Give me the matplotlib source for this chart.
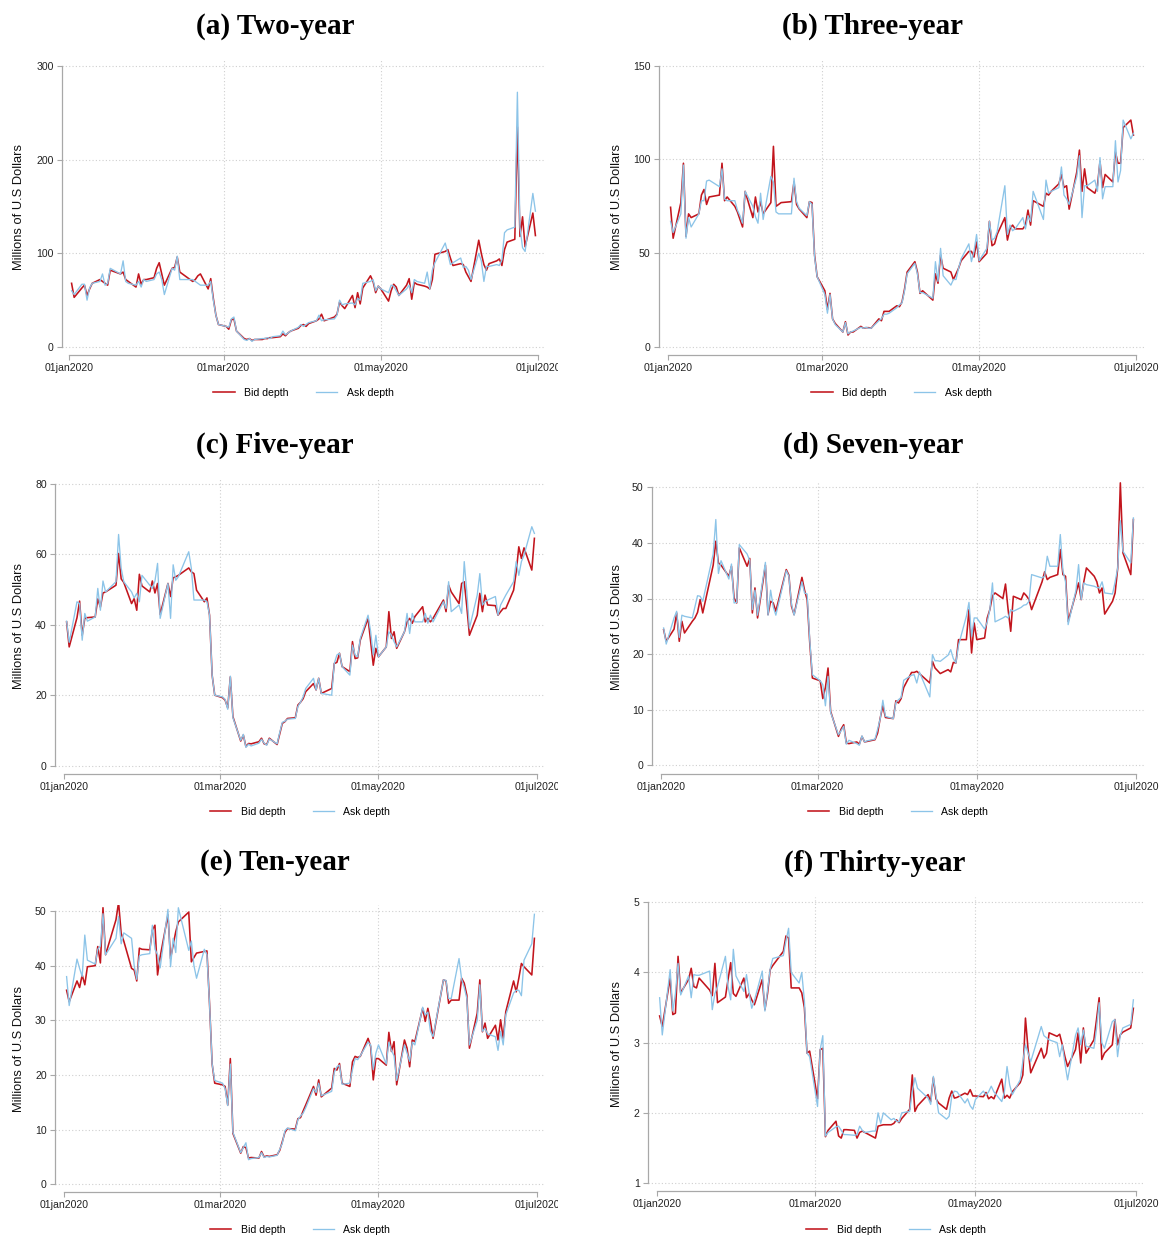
import matplotlib
matplotlib.use("Agg")
import matplotlib.pyplot as plt
from matplotlib.transforms import Bbox, TransformedBbox
import pandas as pd

# trading days, H1 2020 (bond market holidays removed)
holidays = ["2020-01-20", "2020-02-17", "2020-04-10", "2020-05-25"]
days = pd.bdate_range("2020-01-02", "2020-06-30")
days = days[~days.isin(pd.to_datetime(holidays))]

tick_days = ["2020-01-01", "2020-03-01", "2020-05-01", "2020-07-01"]
tick_labels = ["01jan2020", "01mar2020", "01may2020", "01jul2020"]

titles = ["(a) Two-year", "(b) Three-year", "(c) Five-year",
          "(d) Seven-year", "(e) Ten-year", "(f) Thirty-year"]
series_names = ["Bid depth", "Ask depth"]
ylabel = "Millions of U.S Dollars"

yticks = [[0, 100, 200, 300], [0, 50, 100, 150], [0, 20, 40, 60, 80],
          [0, 10, 20, 30, 40, 50], [0, 10, 20, 30, 40, 50], [1, 2, 3, 4, 5]]

# one line per month: Jan(21) Feb(19) Mar(22) Apr(21) May(20) Jun(22)
bid_2y = [68, 53, 63, 66, 55, 62, 68, 72, 70, 68, 66, 82, 78, 80, 72, 70, 64, 78, 67, 72, 72,
          74, 84, 90, 78, 66, 84, 85, 96, 80, 78, 70, 72, 76, 78, 62, 73, 52, 34, 24,
          22, 19, 29, 30, 17, 9, 8, 9, 7, 8, 8, 9, 9, 10, 10, 11, 14, 12, 15, 17, 20, 23,
          24, 22, 25, 28, 30, 35, 28, 32, 35, 48, 44, 41, 55, 42, 58, 46, 63, 76, 70, 58, 65,
          62, 49, 60, 67, 64, 55, 66, 73, 51, 69, 67, 65, 64, 62, 72, 99, 102, 104, 95, 87,
          89, 88, 80, 75, 70, 114, 100, 88, 82, 89, 92, 94, 87, 104, 112, 115, 235, 118, 139, 107, 143, 119]
ask_2y = [60, 56, 67, 67, 50, 63, 68, 70, 78, 66, 68, 84, 78, 92, 70, 68, 66, 70, 64, 72, 70,
          72, 78, 80, 72, 56, 84, 82, 97, 72, 72, 72, 70, 68, 66, 66, 70, 50, 34, 24,
          22, 21, 30, 32, 17, 8, 7, 9, 6, 8, 9, 9, 10, 9, 11, 12, 17, 13, 15, 17, 21, 24,
          22, 24, 26, 28, 34, 28, 29, 30, 34, 50, 45, 46, 47, 45, 52, 50, 68, 70, 72, 60, 65,
          62, 58, 66, 65, 60, 55, 62, 66, 58, 72, 70, 68, 80, 62, 82, 90, 111, 100, 88, 90,
          95, 85, 86, 82, 72, 100, 92, 70, 86, 86, 88, 87, 93, 122, 125, 128, 272, 128, 106, 102, 164, 145]

bid_3y = [74.5, 58, 77, 98, 59, 71, 69, 71, 81, 84, 76, 80, 81, 98, 78, 80, 75, 72, 68, 64, 83,
          69, 80, 72, 77.5, 71, 77, 107, 75, 76, 77, 77.5, 88, 76, 73.6, 69, 77.5, 77, 49, 37.5,
          30, 20, 28.6, 15, 12.6, 8, 13.5, 6.4, 8, 8, 11, 10, 10.3, 10.3, 10, 15, 14, 19, 19, 19, 22, 21.5,
          24, 31, 40, 45.5, 40, 28.6, 30, 25, 39, 34, 49, 42, 40, 36, 39, 42, 46, 51, 51, 48, 56,
          45.5, 50, 67, 54, 55, 60, 69, 57, 63, 65, 63, 63, 65, 73, 65, 78, 75, 82, 81, 83,
          87, 92, 85, 86, 73.5, 93.5, 105, 83, 95, 85, 82, 86, 99, 85, 92, 88, 104, 98, 98, 117, 121, 113]
ask_3y = [67, 61, 71, 97, 58, 69, 64, 71, 78, 78, 88.5, 89, 85.5, 95, 79, 78, 78, 73, 70, 66, 83,
          75, 69.5, 66, 82, 68, 91, 88, 72, 71, 71, 71, 90, 77.5, 74, 70, 77.5, 76, 48, 37.5,
          28, 18, 28, 15, 12, 8, 13, 7, 8, 8.5, 10.5, 10, 10.5, 10, 10, 14, 15, 17.5, 17.5, 18, 21, 22.5,
          23.5, 30, 39, 44.6, 39, 29, 29, 26, 45.5, 35, 52.6, 38, 33, 36, 36, 42, 47, 55, 45.5, 51, 60,
          46, 52.6, 67, 57, 58, 61.5, 86, 60, 65, 62, 63, 69, 63, 70, 67, 83, 68, 89, 82, 83,
          85, 96, 81, 79, 76, 91, 102, 69, 86, 86, 89, 83, 101, 79, 85.5, 85.5, 110, 88, 94, 121, 111, 114]

bid_5y = [40.8, 33.7, 42, 46.7, 37, 41.8, 42, 42.2, 47.3, 45, 49, 49.3, 51.2, 60.2, 53, 52, 46, 47.4, 44.1, 54.3, 51,
          49.3, 52.4, 49, 51.7, 42.9, 51.7, 48, 53.3, 53.6, 54, 56.1, 55, 54.5, 49.8, 46.5, 47.6, 42.7, 25.7, 20,
          19.3, 18.6, 16.4, 25.2, 13.9, 7, 8.7, 5.4, 6.3, 6.2, 6.8, 7.8, 6.2, 6, 7.8, 6, 9, 12, 12.5, 13.4, 13.6, 17.2,
          18, 19, 21, 23.3, 21.5, 24.8, 20.5, 21.9, 29, 29.3, 31.9, 28.1, 26.7, 35.2, 30.4, 30.6, 35.6, 41.8, 35.2, 28.5, 33.3,
          30.9, 33.7, 43.7, 36.1, 38, 33.3, 38, 40.8, 41.8, 40.4, 42.3, 45.1, 40.8, 41.8, 40.8, 41.8, 47, 43.7, 51.2, 49.3,
          46, 51.7, 52.2, 45.1, 37, 42.7, 48.9, 43.7, 48.4, 45.6, 45.4, 42.7, 43.7, 44.6, 44.6, 49.8, 55, 62.1, 58.8, 61.8, 55.5, 64.5]
ask_5y = [41, 35, 46.5, 46, 35.6, 43.2, 41, 42.2, 50.3, 44.1, 52.4, 49.3, 52.2, 65.6, 56, 52.2, 49.3, 47.6, 48.9, 46.5, 54,
          51.2, 50.3, 52.4, 57.4, 41.8, 51.7, 41.8, 57, 52.6, 53.6, 60.7, 56, 47, 47, 47, 46.5, 42.7, 25.7, 20,
          19.5, 18.8, 16, 25.4, 13.6, 7.2, 8.9, 5.2, 6.1, 5.6, 6.4, 7.5, 6.4, 5.8, 7.6, 6.2, 9.4, 12.3, 12.6, 13.2, 13.4, 16.8,
          18, 19.5, 21.9, 24.8, 21.5, 24.8, 20.5, 20, 29, 31.4, 31.9, 28.1, 25.7, 34.2, 31.4, 30.9, 36.1, 42.7, 38, 31.4, 37,
          30.9, 33.7, 38, 37, 35.2, 33.7, 38, 43.2, 37.5, 43.2, 40.8, 40.8, 43.2, 40.4, 42.7, 40.8, 46.5, 44.6, 52.2, 43.7,
          45.6, 43.2, 57.9, 49.3, 39, 48.4, 54.5, 45.6, 46.5, 47, 48, 42.7, 45.6, 47, 48.4, 52.2, 57.9, 54, 57.9, 59.7, 67.8, 65.9]

bid_7y = [24.4, 22.3, 24.5, 27.4, 22.3, 25.9, 23.8, 25.9, 26.5, 27.5, 29.8, 27.4, 36, 40.3, 36.4, 36, 34, 35.8, 30.1, 29.2, 39.1,
          35.8, 37.2, 27.4, 31.9, 26.5, 36, 27.1, 29.5, 29.2, 27.7, 35.2, 34.2, 28.6, 27.1, 33.8, 31.5, 29.8, 22, 15.7,
          15.2, 12, 14, 17.5, 9.7, 5.2, 6.5, 7.3, 4, 3.9, 4.2, 3.8, 5.2, 4.2, 4.3, 4.6, 5.8, 8.5, 10.7, 8.6, 8.4, 11.6,
          11.2, 12, 14, 16.7, 16.7, 16.9, 16.5, 14.8, 18.7, 17.5, 17, 16.5, 17.2, 16.8, 18.5, 18.4, 22.6, 22.6, 28, 20.2, 25.6,
          22.6, 22.9, 26.5, 28, 30.5, 31, 30, 32.6, 28, 24.1, 30.4, 29.8, 31, 30.5, 29.8, 28, 33, 34.8, 33.4, 33.8,
          34.3, 38.8, 34.3, 34, 25.9, 31, 32.8, 29.8, 33, 35.5, 34, 33, 31, 31.9, 27.2, 29.5, 31, 35.5, 50.8, 38.2, 34.3, 44.2]
ask_7y = [24.7, 21.8, 26.5, 27.7, 23, 27, 26.8, 26.5, 28.5, 30.5, 30.4, 29.5, 38, 44.2, 34.5, 36.8, 33.5, 36.2, 29.2, 29.3, 39.7,
          38, 36.8, 28, 31.5, 27, 36.5, 27, 31.5, 28.5, 27, 35, 34, 29, 27, 33, 31, 30.8, 22.5, 16.3,
          15.2, 14.5, 10.7, 16, 9.5, 5.5, 6.2, 7, 3.8, 4.5, 3.9, 3.6, 5.3, 4.2, 4.4, 4.7, 6.5, 8.4, 11.7, 8.8, 8.4, 11.3,
          11.8, 12.2, 15.3, 16.2, 16.3, 14.8, 16.8, 12.3, 19.9, 18.8, 18.8, 18.7, 19.8, 20.8, 19.2, 18.4, 21.6, 26.8, 29.3, 23.2, 26.5,
          26.5, 24.5, 25.8, 28, 32.8, 25.8, 26.5, 26.8, 26.5, 28, 27.7, 28.4, 28.8, 28.9, 29.5, 34.3, 33.7, 34, 37.6, 35.8,
          35.8, 41.5, 35, 33, 25.3, 31.5, 36.1, 29.8, 32.8, 32.5, 32.2, 32, 31.9, 33, 31, 30.8, 33, 35.5, 44, 38.5, 36.4, 44.5]

bid_10y = [35.5, 33.4, 37.2, 36, 38.3, 36.5, 39.8, 40, 43.5, 40.5, 50.6, 42, 48.4, 51.6, 45.9, 44.5, 39.5, 39.2, 37.2, 43.2, 43,
           42.9, 46.5, 47.4, 38.3, 41.6, 49.3, 41.3, 43.8, 46.2, 48, 49.8, 40.7, 41.5, 42.3, 42.6, 42.7, 33, 22, 18.5,
           18.2, 17.9, 14.5, 23, 9.3, 5.7, 6.9, 6.7, 4.8, 4.9, 4.8, 6, 5, 5.2, 5.1, 5.4, 6.2, 7.8, 9.5, 10.2, 10.1, 12,
           12.2, 13.4, 14.5, 17.9, 16.3, 19.1, 16, 17.6, 21.2, 20.9, 22.1, 18.5, 17.9, 22.4, 23.4, 23.2, 23.4, 26.7, 25.2, 19.1, 23,
           23, 21.8, 27.8, 24.3, 26.1, 18.2, 26.4, 24.9, 21.5, 26.4, 26.1, 32.2, 29.8, 32.2, 29.8, 26.7, 37.4, 37.2, 33.1, 33.7,
           33.7, 37.7, 36.8, 34.6, 24.9, 31.3, 37.4, 27.9, 29.5, 26.7, 29.1, 26.4, 30.1, 26.7, 31.6, 37.2, 35.2, 37.7, 40.4, 39.8, 38.3, 45]
ask_10y = [38, 32.7, 41.2, 39.5, 38, 45.6, 41, 40.3, 43, 43.6, 49.5, 42, 45, 49, 44, 46, 45, 40, 37.5, 41.8, 42,
           42.2, 47.4, 43, 42, 39.6, 50.3, 39.8, 45, 42.4, 50.6, 42.8, 44.5, 40, 37.7, 43, 42, 33, 22, 19,
           18.5, 17.5, 14.4, 22, 9.5, 5.8, 6.7, 7.6, 4.5, 4.7, 4.9, 5.8, 4.9, 5.1, 5.0, 5.3, 6.4, 7.5, 9.8, 10.3, 9.8, 11.8,
           12.5, 13, 14, 17.5, 16.8, 18.5, 16.2, 17, 20.5, 21.5, 21.8, 18.3, 18.5, 21, 23, 22.8, 23.5, 26, 25.5, 21, 24,
           25.5, 22, 26, 24.5, 23.5, 19, 25.5, 24, 22.5, 26, 25.5, 32.4, 31, 31.5, 28, 27, 37.4, 37.3, 34, 34,
           41.3, 37.5, 36, 34, 25.5, 30, 36.5, 28, 28.5, 27.5, 27, 24.5, 28, 25.5, 31, 35, 35.5, 35.5, 34.5, 41, 44, 49.4]

bid_30y = [3.38, 3.23, 3.92, 3.40, 3.42, 4.23, 3.71, 3.90, 4.06, 3.80, 3.78, 3.92, 3.75, 3.67, 4.13, 3.57, 3.65, 3.90, 4.14, 3.70, 3.66,
           3.92, 3.64, 3.70, 3.61, 3.54, 3.90, 3.47, 3.70, 4.04, 4.10, 4.30, 4.52, 4.49, 3.78, 3.78, 3.71, 3.50, 2.85, 2.88,
           2.20, 2.90, 2.92, 1.66, 1.75, 1.88, 1.67, 1.64, 1.76, 1.76, 1.75, 1.64, 1.72, 1.74, 1.72, 1.66, 1.64, 1.81, 1.82, 1.83, 1.83, 1.85,
           1.90, 1.86, 1.92, 2.05, 2.54, 2.02, 2.10, 2.26, 2.16, 2.50, 2.20, 2.14, 2.05, 2.21, 2.31, 2.21, 2.22, 2.28, 2.26, 2.33, 2.24,
           2.24, 2.23, 2.29, 2.20, 2.23, 2.20, 2.48, 2.21, 2.25, 2.21, 2.30, 2.43, 2.54, 3.35, 2.90, 2.57, 2.92, 2.78, 2.85, 3.14,
           3.09, 3.12, 2.97, 2.80, 2.66, 2.90, 3.14, 2.71, 3.21, 2.85, 3.04, 3.33, 3.64, 2.76, 2.85, 2.97, 3.33, 2.97, 3.11, 3.15, 3.21, 3.49]
ask_30y = [3.64, 3.11, 4.04, 3.45, 3.70, 4.13, 3.68, 3.95, 3.64, 3.97, 3.96, 3.96, 4.02, 3.47, 3.70, 3.80, 4.23, 3.80, 3.61, 4.33, 3.95,
           3.73, 3.97, 3.71, 3.49, 3.60, 4.02, 3.45, 3.75, 4.05, 4.20, 4.24, 4.45, 4.63, 4.00, 3.85, 4.00, 3.60, 2.85, 2.80,
           2.09, 2.90, 3.10, 1.67, 1.72, 1.80, 1.81, 1.75, 1.69, 1.69, 1.68, 1.69, 1.81, 1.75, 1.72, 1.74, 1.74, 2.00, 1.85, 2.00, 1.90, 1.92,
           1.88, 1.87, 2.00, 2.02, 2.30, 2.50, 2.35, 2.21, 2.12, 2.52, 2.25, 2.00, 1.91, 1.95, 2.24, 2.31, 2.30, 2.14, 2.20, 2.10, 2.05,
           2.19, 2.31, 2.25, 2.30, 2.38, 2.30, 2.16, 2.30, 2.66, 2.40, 2.26, 2.47, 2.73, 2.97, 2.85, 2.73, 3.23, 3.10, 3.07, 3.04,
           3.00, 2.80, 2.97, 2.70, 2.47, 3.10, 3.21, 2.97, 3.18, 2.95, 2.92, 3.20, 3.57, 3.00, 2.92, 3.30, 3.33, 2.80, 3.10, 3.21, 3.26, 3.61]

bids = [bid_2y, bid_3y, bid_5y, bid_7y, bid_10y, bid_30y]
asks = [ask_2y, ask_3y, ask_5y, ask_7y, ask_10y, ask_30y]

# ---- layout (pixels of a 1159x1237 canvas) ----
W, H = 1159, 1237
# axes box (left, top, right, bottom), x px of 01jan/01jul, y px of lowest/highest tick
boxes = [(62, 60, 545, 355), (659, 60, 1144, 355),
         (55, 478, 545, 774), (652, 481, 1144, 774),
         (55, 905, 545, 1192), (648, 897, 1144, 1191)]
xpix = [(69, 538), (668, 1136), (64, 537), (661, 1136), (64, 537), (657, 1136)]
ypix = [(347, 66), (347, 65.7), (765.7, 483.7), (765.3, 487.3), (1184.3, 911), (1183, 902.3)]
title_pos = [(275, 26), (872, 26), (275, 445), (873, 445), (275, 863), (875, 863)]
ylab_x = [25, 623, 25, 623, 25, 623]   # right edge of the rotated label
legend_y = [393, 393, 812, 812, 1230, 1230]

RED = "#c2151d"
BLUE = "#8cc4e8"
GRID = "#cfcfcf"
AXC = "#a8a8a8"

plt.rcParams["font.family"] = ["Liberation Sans", "DejaVu Sans"]

fig = plt.figure(figsize=(W / 100, H / 100), dpi=100)
fig.patch.set_facecolor("white")

x = (days - pd.Timestamp("2020-01-01")).days.to_numpy()
xt = [(pd.Timestamp(d) - pd.Timestamp("2020-01-01")).days for d in tick_days]

for i in range(6):
    l, t, r, b = boxes[i]
    ax = fig.add_axes([l / W, 1 - b / H, (r - l) / W, (b - t) / H])

    ax.plot(x[:len(bids[i])], bids[i], color=RED, lw=1.15, label=series_names[0])
    ax.plot(x[:len(asks[i])], asks[i], color=BLUE, lw=0.95, label=series_names[1])

    # limits so that ticks land on the same pixels as the reference
    x0, x1 = xpix[i]
    sx = (x1 - x0) / (xt[-1] - xt[0])
    ax.set_xlim(xt[0] - (x0 - l) / sx, xt[-1] + (r - x1) / sx)
    v0, v1 = yticks[i][0], yticks[i][-1]
    y0, y1 = ypix[i]
    sy = (y0 - y1) / (v1 - v0)
    ax.set_ylim(v0 - (b - y0) / sy, v1 + (y1 - t) / sy)

    ax.set_xticks(xt, tick_labels)
    ax.set_yticks(yticks[i])

    for s in ["top", "right"]:
        ax.spines[s].set_visible(False)
    for s in ["left", "bottom"]:
        ax.spines[s].set_color(AXC)
        ax.spines[s].set_linewidth(0.9)
    ax.spines["left"].set_bounds(v0, v1)
    ax.spines["bottom"].set_bounds(xt[0], xt[-1])

    ax.tick_params(direction="out", length=3.5, width=0.8, color=AXC,
                   labelsize=7.6, labelcolor="#222222", pad=2.5)

    ax.grid(True, linestyle=(0, (1, 2)), color=GRID, lw=0.8)
    xg = ax.get_xgridlines()
    xg[0].set_visible(False)
    xg[-1].set_visible(False)
    ax.set_axisbelow(True)

    ax.set_ylabel(ylabel, fontsize=9.3, color="#111111")
    ax.yaxis.set_label_coords((ylab_x[i] - l) / (r - l), 0.5)

    ax.legend(loc="center", bbox_to_anchor=(0.5, -(legend_y[i] - b) / (b - t)),
              ncol=2, frameon=False, fontsize=7.6, handlelength=2.0,
              handletextpad=0.9, columnspacing=2.6)

    # the reference crops each panel, cutting the last date label
    if i % 2 == 0:
        clip = TransformedBbox(Bbox([[0, 0], [558 / W, 1]]), fig.transFigure)
        for lbl in ax.get_xticklabels():
            lbl.set_clip_box(clip)
            lbl.set_clip_on(True)

    tx, ty = title_pos[i]
    fig.text(tx / W, 1 - ty / H, titles[i], ha="center", va="center",
             fontfamily="Liberation Serif", fontweight="bold", fontsize=21)

fig.savefig("out.png", dpi=100, facecolor="white")
